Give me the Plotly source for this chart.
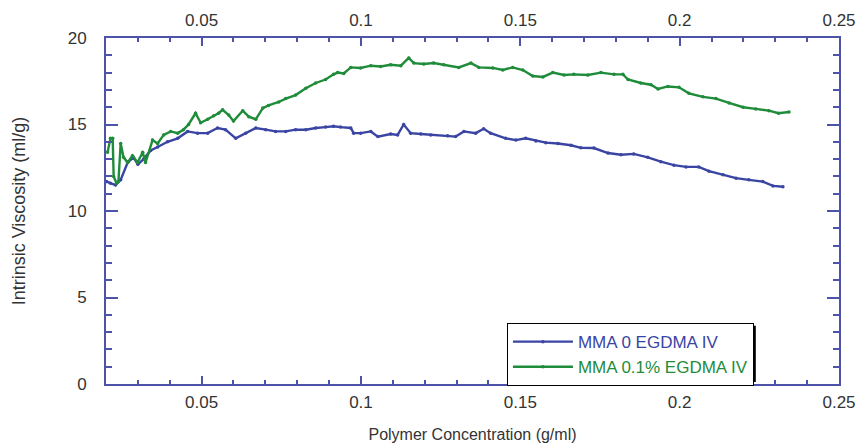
import plotly.graph_objects as go

# MMA 0 EGDMA IV (blue)
conc_a = [0.0202, 0.0214, 0.0230, 0.0246, 0.0268, 0.0286, 0.0300, 0.0318, 0.0340, 0.0362,
          0.0393, 0.0425, 0.0456, 0.0487, 0.0519, 0.0550, 0.0575, 0.0607, 0.0638, 0.0670,
          0.0701, 0.0732, 0.0764, 0.0795, 0.0827, 0.0858, 0.0889, 0.0914, 0.0936, 0.0968,
          0.0977, 0.0999, 0.1031, 0.1053, 0.1093, 0.1115, 0.1134, 0.1156, 0.1188, 0.1219,
          0.1272, 0.1297, 0.1323, 0.1360, 0.1385, 0.1407, 0.1454, 0.1486, 0.1517, 0.1549,
          0.1580, 0.1618, 0.1659, 0.1690, 0.1731, 0.1775, 0.1816, 0.1856, 0.1900, 0.1941,
          0.1982, 0.2020, 0.2060, 0.2092, 0.2136, 0.2177, 0.2217, 0.2261, 0.2293, 0.2324]
visc_a = [11.7, 11.6, 11.5, 11.8, 12.8, 13.1, 12.7, 13.0, 13.5, 13.7,
          14.0, 14.2, 14.6, 14.5, 14.5, 14.8, 14.7, 14.2, 14.5, 14.8,
          14.7, 14.6, 14.6, 14.7, 14.7, 14.8, 14.85, 14.9, 14.85, 14.8,
          14.5, 14.5, 14.6, 14.3, 14.45, 14.4, 15.0, 14.5, 14.45, 14.4,
          14.35, 14.3, 14.6, 14.5, 14.75, 14.5, 14.2, 14.1, 14.2, 14.05,
          13.95, 13.9, 13.8, 13.65, 13.64, 13.35, 13.25, 13.3, 13.1, 12.85,
          12.65, 12.55, 12.55, 12.3, 12.1, 11.9, 11.8, 11.7, 11.45, 11.4]

# MMA 0.1% EGDMA IV (green)
conc_b = [0.0205, 0.0214, 0.0221, 0.0224, 0.0233, 0.0239, 0.0246, 0.0255, 0.0268, 0.0283,
          0.0299, 0.0315, 0.0324, 0.0346, 0.0362, 0.0381, 0.0403, 0.0425, 0.0443, 0.0459,
          0.0481, 0.0497, 0.0519, 0.0538, 0.0553, 0.0566, 0.0585, 0.0600, 0.0629, 0.0648,
          0.0670, 0.0692, 0.0710, 0.0742, 0.0764, 0.0795, 0.0827, 0.0858, 0.0889, 0.0914,
          0.0927, 0.0946, 0.0968, 0.0999, 0.1031, 0.1062, 0.1093, 0.1125, 0.1150, 0.1166,
          0.1197, 0.1228, 0.1260, 0.1307, 0.1345, 0.1370, 0.1414, 0.1445, 0.1476, 0.1508,
          0.1539, 0.1571, 0.1602, 0.1637, 0.1668, 0.1712, 0.1753, 0.1794, 0.1822, 0.1838,
          0.1878, 0.1910, 0.1932, 0.1963, 0.1998, 0.2029, 0.2073, 0.2114, 0.2155, 0.2199,
          0.2239, 0.2280, 0.2310, 0.2343]
visc_b = [13.4, 14.2, 14.2, 12.0, 11.6, 11.7, 13.9, 13.1, 12.8, 13.2,
          12.8, 13.4, 12.8, 14.1, 13.9, 14.4, 14.6, 14.5, 14.7, 15.0,
          15.65, 15.1, 15.3, 15.5, 15.65, 15.85, 15.55, 15.2, 15.8, 15.45,
          15.3, 15.95, 16.1, 16.3, 16.5, 16.7, 17.1, 17.4, 17.6, 17.9,
          18.0, 17.95, 18.3, 18.27, 18.4, 18.35, 18.45, 18.4, 18.85, 18.55,
          18.5, 18.55, 18.45, 18.3, 18.55, 18.3, 18.27, 18.15, 18.3, 18.15,
          17.8, 17.75, 18.0, 17.86, 17.9, 17.86, 18.0, 17.9, 17.9, 17.6,
          17.4, 17.3, 17.05, 17.2, 17.15, 16.8, 16.6, 16.5, 16.25, 16.0,
          15.9, 15.8, 15.65, 15.72]

series_names = ["MMA 0 EGDMA IV", "MMA 0.1% EGDMA IV"]
series_colors = ["#3a45a3", "#1f8c3a"]
x_ticks = [0.05, 0.1, 0.15, 0.2, 0.25]
x_tick_text = ["0.05", "0.1", "0.15", "0.2", "0.25"]
y_ticks = [0, 5, 10, 15, 20]

AXIS = "#4c53a8"
FONT = "Liberation Sans, Arial, sans-serif"

fig = go.Figure()
for xs, ys, name, col in [(conc_a, visc_a, series_names[0], series_colors[0]),
                          (conc_b, visc_b, series_names[1], series_colors[1])]:
    fig.add_trace(go.Scatter(
        x=xs, y=ys, mode="lines+markers",
        name=f'<span style="color:{col}">{name}</span>',
        line=dict(color=col, width=2.4),
        marker=dict(color=col, size=3.5),
    ))
# invisible helper trace for the top axis
fig.add_trace(go.Scatter(x=[x_ticks[0]], y=[y_ticks[0]], xaxis="x2", mode="markers",
                         marker=dict(opacity=0), showlegend=False, hoverinfo="skip"))

# drop shadow behind legend box (paper coordinates)
fig.add_shape(type="rect", xref="paper", yref="paper",
              x0=0.551, x1=0.8865, y0=0.006, y1=0.168,
              fillcolor="black", line=dict(width=0), layer="above")

fig.update_layout(
    width=859, height=443,
    margin=dict(l=106, r=20, t=38, b=59),
    paper_bgcolor="white", plot_bgcolor="white",
    font=dict(family=FONT, size=16, color="#333333"),
    showlegend=True,
    legend=dict(x=0.547, y=0.176, xanchor="left", yanchor="top",
                bgcolor="white", bordercolor="black", borderwidth=1,
                font=dict(size=17), itemwidth=60, tracegroupgap=0),
    xaxis=dict(range=[0.02, 0.25], tickvals=x_ticks, ticktext=x_tick_text,
               ticks="inside", ticklen=8, tickwidth=1.5, tickcolor=AXIS,
               showline=True, linecolor=AXIS, linewidth=2, mirror="ticks",
               showgrid=False, zeroline=False, automargin=False, ticklabelstandoff=2,
               minor=dict(dtick=0.01, tick0=0, ticks="inside", ticklen=4,
                          tickcolor=AXIS, tickwidth=1.5, showgrid=False),
               title=dict(text="Polymer Concentration (g/ml)", font=dict(size=16), standoff=19),
               tickfont=dict(size=17)),
    xaxis2=dict(range=[0.02, 0.25], overlaying="x", side="top", anchor="y",
                tickvals=x_ticks, ticktext=x_tick_text, ticks="",
                showline=False, showgrid=False, zeroline=False, automargin=False,
                ticklabelstandoff=8, tickfont=dict(size=17)),
    yaxis=dict(range=[0, 20], tickvals=y_ticks,
               ticks="inside", ticklen=12, tickwidth=1.5, tickcolor=AXIS,
               showline=True, linecolor=AXIS, linewidth=2, mirror="ticks",
               showgrid=False, zeroline=False, ticklabelstandoff=14, automargin=False,
               minor=dict(dtick=1, ticks="inside", ticklen=6,
                          tickcolor=AXIS, tickwidth=1.5, showgrid=False),
               title=dict(text="Intrinsic Viscosity (ml/g)", font=dict(size=18), standoff=37),
               tickfont=dict(size=17)),
)

fig.write_html("out.html", config={"displayModeBar": False},
               post_script="document.body.style.margin='0';document.body.style.padding='0';")
